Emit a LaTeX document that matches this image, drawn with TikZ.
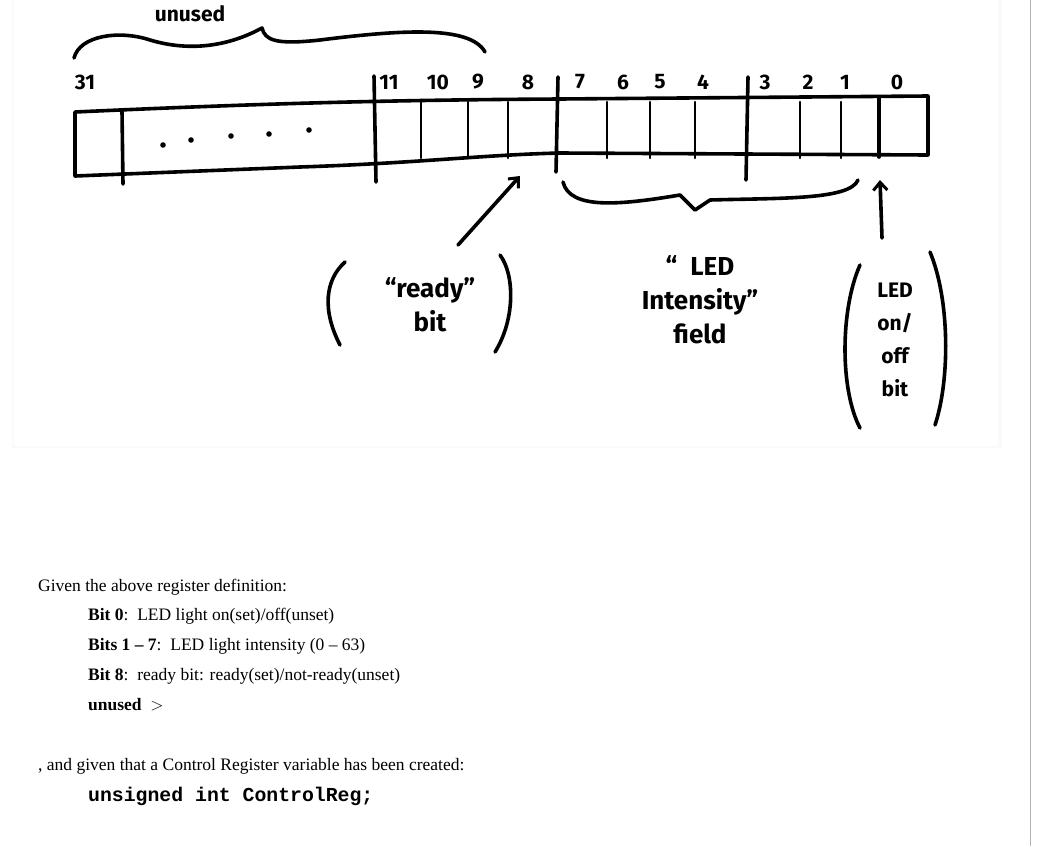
\documentclass[tikz,border=0pt]{standalone}
\usepackage{fontspec}
\usetikzlibrary{arrows.meta}
\setmainfont{Liberation Serif}
\setmonofont{Liberation Mono}
\newfontfamily\hand{Fira Sans}
\begin{document}
\begin{tikzpicture}[x=1pt,y=-1pt,
  ink/.style={line width=3.6pt,line cap=round,line join=round},
  thin/.style={line width=2.6pt,line cap=round},
  num/.style={font=\hand\bfseries\fontsize{21}{22}\selectfont,inner sep=0},
  hw/.style={font=\hand\bfseries\fontsize{26}{34}\selectfont,align=center,inner sep=0},
  txt/.style={font=\fontsize{17.5}{20}\selectfont,anchor=base west,inner sep=0},
  arr/.style={ink,-{Straight Barb[length=8pt,width=14pt,line width=3pt]}}]
\useasboundingbox (0,0) rectangle (1044,846);
\fill[white] (0,0) rectangle (1044,846);
\fill[gray!4] (12,0) rectangle (1002,448);
\fill[white] (14,0) rectangle (998,446);
\draw[gray!60,line width=0.8pt] (1030,0) -- (1030,846);
% register
\draw[ink] (75,112) .. controls (250,104) and (380,100) .. (560,99) -- (928,96) -- (928,155)
  -- (560,153) .. controls (480,155) and (420,163) .. (300,167) -- (75,176) -- cycle;
\draw[ink] (122,111) -- (123,184);
\foreach \x/\y in {163/145,191/140,231/136,269/134,309/130} \fill (\x,\y) circle (2.8);
\draw[ink] (374,76) -- (376,182);
\foreach \x in {421,468,508,607,650,695,800,841}
  \draw[thin] (\x,102) -- (\x,158);
\draw[ink] (558,77) -- (556,172);
\draw[ink] (748,77) -- (746,180);
\draw[ink] (879,97) -- (879,157);
% numbers
\foreach \t/\x in {31/85,11/389,10/438,9/478,8/528,7/580,6/623,5/660,4/703,3/765,2/808,1/845,0/897}
  \node[num] (n\t) at (\x,82) {\t};
% unused brace
\draw[ink] (74,58) .. controls (80,35) and (120,30) .. (150,40) .. controls (200,55) and (240,40) .. (262,28)
  .. controls (265,40) and (275,45) .. (320,40) .. controls (400,30) and (470,25) .. (485,52);
\node[hw,font=\hand\bfseries\fontsize{21}{22}\selectfont] (unused) at (190,14) {unused};
% intensity brace
\draw[ink] (563,182) .. controls (570,210) and (620,205) .. (680,195) -- (695,210) -- (710,200)
  .. controls (780,198) and (850,200) .. (858,180);
% labels
\node[hw] (ready) at (430,305) {“ready”\\bit};
\draw[ink] (340,345) .. controls (322,310) and (325,280) .. (345,262);
\draw[ink] (500,255) .. controls (515,275) and (515,320) .. (495,352);
\coordinate (rt) at (520,176);
\draw[arr] (458,245) -- (rt);
\node[hw] (int) at (700,300) {“\,\,\,LED\\Intensity”\\field};
\node[hw,font=\hand\bfseries\fontsize{21}{33}\selectfont] (onoff) at (895,340) {LED\\on/\\off\\bit};
\draw[ink] (860,265) .. controls (840,310) and (840,390) .. (860,428);
\draw[ink] (930,252) .. controls (950,300) and (950,380) .. (935,425);
\coordinate (ot) at (880,180);
\draw[arr] (882,238) -- (ot);
% text
\node[txt] (t1) at (38,591) {Given the above register definition:};
\node[txt] (t2) at (88,620) {\textbf{Bit 0}:\ \ LED light on(set)/off(unset)};
\node[txt] (t3) at (88,650) {\textbf{Bits 1 -- 7}:\ \ LED light intensity (0 -- 63)};
\node[txt] (t4) at (88,680) {\textbf{Bit 8}:\ \ ready bit: ready(set)/not-ready(unset)};
\node[txt] (t5) at (88,710) {\textbf{unused}\ \ $>$};
\node[txt] (t6) at (38,770) {, and given that a Control Register variable has been created:};
\node[txt,font=\ttfamily\bfseries\fontsize{19.8}{22}\selectfont] (t7) at (88,801) {unsigned int ControlReg;};
\end{tikzpicture}
\end{document}
